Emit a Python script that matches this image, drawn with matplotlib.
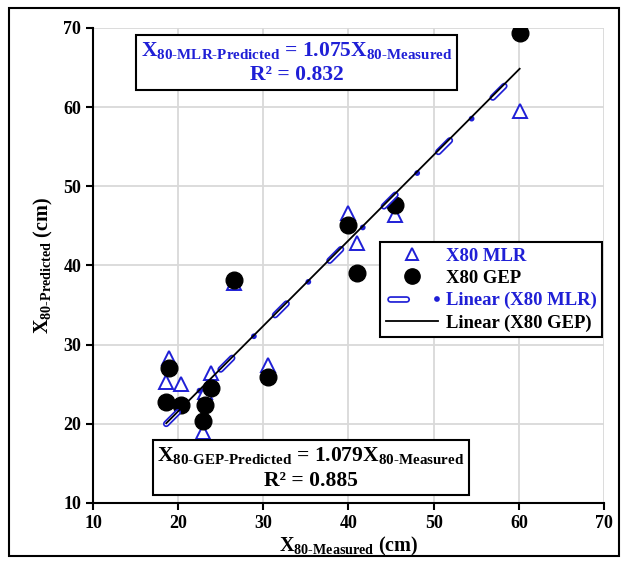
import numpy as np
import matplotlib
matplotlib.use('Agg')
import matplotlib.pyplot as plt
from matplotlib.patches import Rectangle
from matplotlib.lines import Line2D
from matplotlib.legend_handler import HandlerBase

# fonts: Times-like bold everywhere
plt.rcParams['font.family'] = 'Liberation Serif'
plt.rcParams['font.weight'] = 'bold'
plt.rcParams['axes.labelweight'] = 'bold'
plt.rcParams['mathtext.fontset'] = 'custom'
plt.rcParams['mathtext.rm'] = 'Liberation Serif:bold'
plt.rcParams['mathtext.it'] = 'Liberation Serif:bold'
plt.rcParams['mathtext.bf'] = 'Liberation Serif:bold'
plt.rcParams['lines.scale_dashes'] = False

# data (measured vs predicted X80, cm)
x_measured = [60.1, 39.9, 41.0, 45.5, 26.6, 30.6, 18.9, 18.6, 20.3, 23.9, 23.1, 22.9]
x80_mlr = [59.5, 46.6, 42.9, 46.4, 37.8, 27.4, 28.3, 25.3, 25.0, 26.4, 24.0, 19.0]
x80_gep = [69.4, 45.1, 39.1, 47.7, 38.2, 25.9, 27.1, 22.8, 22.4, 24.5, 22.4, 20.3]
slope_mlr = 1.075
slope_gep = 1.079
r2_mlr = 0.832
r2_gep = 0.885
ticks = [10, 20, 30, 40, 50, 60, 70]

blue = '#1f1fd6'
# long dash / dot pattern of the MLR trendline (points)
dash_style = (0, (11.7, 43.7))
dot_style = (21.6, (0.01, 55.4))


def mlr_trend(ax, x, y):
    # hollow capsule dashes plus a dot, like the Excel trendline
    ax.plot(x, y, color=blue, lw=4.8, linestyle=dash_style, dash_capstyle='round', zorder=5)
    ax.plot(x, y, color='white', lw=2.3, linestyle=dash_style, dash_capstyle='round', zorder=5)
    ax.plot(x, y, color=blue, lw=4.2, linestyle=dot_style, dash_capstyle='round', zorder=5)


class MLRHandler(HandlerBase):
    def create_artists(self, legend, orig_handle, xdescent, ydescent,
                       width, height, fontsize, trans):
        y = height / 2 - ydescent
        xs = [-xdescent + 3, width - xdescent]
        arts = []
        for lw, col, ls in [(4.8, blue, dash_style), (2.3, 'white', dash_style),
                            (4.2, blue, dot_style)]:
            arts.append(Line2D(xs, [y, y], color=col, lw=lw, linestyle=ls,
                               dash_capstyle='round', transform=trans))
        return arts


fig = plt.figure(figsize=(6.27, 5.64), dpi=100)
ax = fig.add_axes([0.1483, 0.1082, 0.815, 0.8422])

# scatter points
ax.plot(x_measured, x80_mlr, linestyle='none', marker='^', markersize=10,
        markerfacecolor='white', markeredgecolor=blue, markeredgewidth=1.4,
        zorder=3)
ax.plot(x_measured, x80_gep, linestyle='none', marker='o', markersize=12,
        color='black', zorder=4)

# trendlines through origin
xl = np.array([min(x_measured), max(x_measured)])
mlr_trend(ax, xl, slope_mlr * xl)
gep_line, = ax.plot(xl, slope_gep * xl, color='black', lw=1.3, zorder=6)

ax.set_xlim(10, 70)
ax.set_ylim(10, 70)
ax.set_xticks(ticks)
ax.set_yticks(ticks)
ax.tick_params(labelsize=13, width=1.5, length=5, direction='out')
ax.grid(True, color='#d9d9d9', lw=1.3)
ax.set_axisbelow(True)
for s in ['top', 'right']:
    ax.spines[s].set_visible(False)
for s in ['left', 'bottom']:
    ax.spines[s].set_linewidth(1.5)

ax.set_xlabel(r'$\mathrm{X}_{\text{80-Measured}}$ (cm)', fontsize=14.5, labelpad=2)
ax.set_ylabel(r'$\mathrm{X}_{\text{80-Predicted}}$ (cm)', fontsize=14.5, labelpad=6)

# legend
mlr_marker = Line2D([], [], linestyle='none', marker='^', markersize=8,
                    markerfacecolor='white', markeredgecolor=blue,
                    markeredgewidth=1.4)
gep_marker = Line2D([], [], linestyle='none', marker='o', markersize=11,
                    color='black')
mlr_proxy = Line2D([], [], color=blue)
leg = ax.legend([mlr_marker, gep_marker, mlr_proxy, gep_line],
                ['X80 MLR', 'X80 GEP', 'Linear (X80 MLR)', 'Linear (X80 GEP)'],
                handler_map={mlr_proxy: MLRHandler()},
                loc='upper left', bbox_to_anchor=(0.5616, 0.5495),
                borderaxespad=0, fontsize=13.4, handlelength=2.8,
                handletextpad=0.45, labelspacing=0.28, borderpad=0.3,
                fancybox=False, framealpha=1, edgecolor='black')
leg.get_frame().set_linewidth(1.5)
for t, c in zip(leg.get_texts(), [blue, 'black', blue, 'black']):
    t.set_color(c)

# equation boxes
ax.text(0.398, 0.927,
        r'$\mathrm{X}_{\text{80-MLR-Predicted}}$ = 1.075$\mathrm{X}_{\text{80-Measured}}$' + '\nR² = %.3f' % r2_mlr,
        transform=ax.transAxes, ha='center', va='center', fontsize=15.5,
        color=blue, linespacing=1.3, multialignment='center',
        bbox=dict(boxstyle='square,pad=0.22', facecolor='white',
                  edgecolor='black', lw=1.5), zorder=8)
ax.text(0.4266, 0.0737,
        r'$\mathrm{X}_{\text{80-GEP-Predicted}}$ = 1.079$\mathrm{X}_{\text{80-Measured}}$' + '\nR² = %.3f' % r2_gep,
        transform=ax.transAxes, ha='center', va='center', fontsize=15.5,
        color='black', linespacing=1.3, multialignment='center',
        bbox=dict(boxstyle='square,pad=0.22', facecolor='white',
                  edgecolor='black', lw=1.5), zorder=8)

# outer frame round the whole chart
fig.patches.append(Rectangle((0.0144, 0.0142), 0.973, 0.972, transform=fig.transFigure,
                             fill=False, edgecolor='black', lw=1.5))

fig.savefig('out.png', dpi=100)
